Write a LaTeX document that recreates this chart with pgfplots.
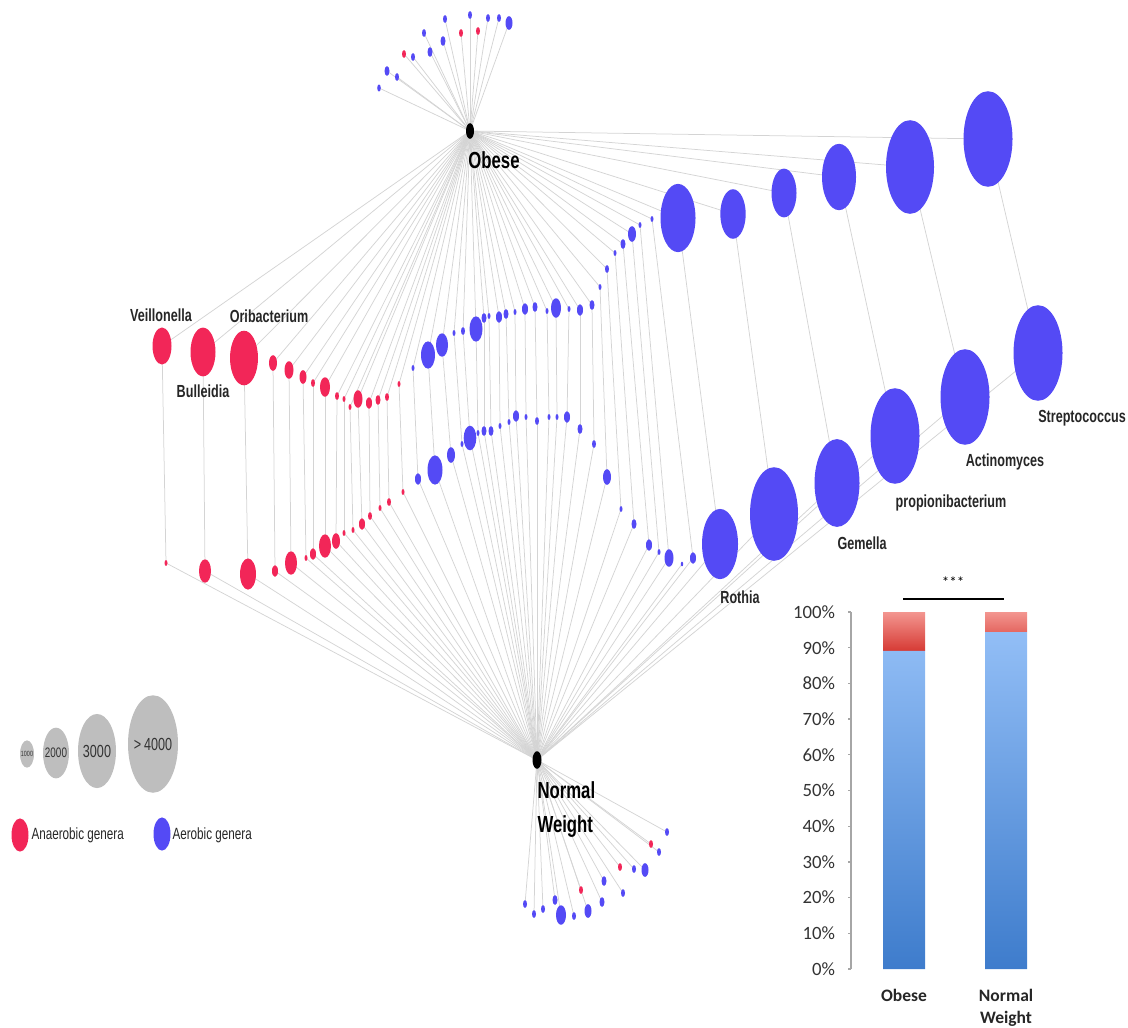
\documentclass[border=0pt]{standalone}
\usepackage{pgfplots}
\pgfplotsset{compat=1.18}
\usepackage{pgfplotstable}
\usepackage{fontspec}
\setmainfont{Liberation Sans}
\newfontfamily\cond[FakeStretch=0.72]{Liberation Sans}
\newfontfamily\carl{Carlito}

\definecolor{nred}{RGB}{242,38,88}
\definecolor{nblue}{RGB}{84,74,245}
\definecolor{lgray}{RGB}{190,190,190}
\definecolor{edgec}{RGB}{212,212,212}
\definecolor{bbT}{RGB}{146,190,246}
\definecolor{bbB}{RGB}{62,124,204}
\definecolor{brT}{RGB}{243,150,144}
\definecolor{brB}{RGB}{214,58,52}

\pgfdeclareplotmark{vell}{%
  \pgfpathellipse{\pgfpointorigin}{\pgfqpoint{\pgfplotmarksize}{0pt}}{\pgfqpoint{0pt}{1.95\pgfplotmarksize}}%
  \pgfusepathqfill}

% genus pairs: upper (obese) node, lower (normal weight) node; r = horizontal radius in px
\pgfplotstableread{
ux uy ur lx ly lr
162 346 9.5 166 563 1.5
203 352 12.5 205 571 6
244 358 14 248 574 8
273 363 4 275 571 3
289 370 4.5 291 563 6
303 377 3.5 306 558 1.5
313 383 2 313 554 3
325 387 5 325 546 6
337 396 2 336 541 4
344 399 1.5 344 533 1.5
350 407 1.5 353 530 1.5
358 399 4.5 362 524 3
369 403 3 370 516 2
378 400 2.5 380 508 1.5
387 397 2 389 502 2
399 384 1.5 403 492 1.5
}\redpairs

\pgfplotstableread{
ux uy ur lx ly lr
413 368 1.5 418 479 3
428 355 7 435 470 7.5
442 345 6 451 455 4
454 333 1.5 462 444 1.5
463 331 2 470 438 6.3
476 329 6.5 478 433 1.5
484 318 2.5 484 431 2.5
489 316 1.5 491 431 2.5
499 317 3 500 426 1.5
506 314 2.5 509 422 1.5
515 312 1.5 516 416 3
525 309 3 526 417 1.5
535 307 2.5 537 421 2
547 311 1.5 549 417 1.5
556 308 5 557 417 1.5
569 309 1.5 567 417 3
580 310 3 580 429 2.5
592 305 2.5 594 444 2
600 287 1.5 607 477 4
607 269 2 621 509 1.5
615 253 1.5 634 524 2.5
623 244 2.5 649 545 3
632 234 4 659 552 1.5
640 225 1.5 669 558 4.5
652 219 1.5 693 558 3
678 218 17.5 720 544 18
733 214 12.7 774 514 24
784 193 12.5 837 483 22.5
839 177 17 895 436 24.5
910 167 24 965 397 24.5
988 139 24.5 1038 353 24.5
}\bluepairs

\pgfplotstableread{
x y r
445 19 2
470 15 2
488 18 2
499 18 2
509 23 3.5
424 33 2
443 41 2.5
430 52 2.5
413 57 2
387 71 2.5
397 77 2
379 88 1.8
}\topblue

\pgfplotstableread{
x y r
461 33 2
478 31 2
404 54 2
}\topred

\pgfplotstableread{
x y r
667 832 2
659 852 2
634 869 2
645 870 3.5
604 881 2.5
623 893 2
602 902 2.5
588 911 3.5
574 916 2
561 915 5
555 900 2.5
543 909 2
534 914 2
525 904 2
682 564 1.2
}\botblue

\pgfplotstableread{
x y r
651 844 2
620 867 2
581 890 2
}\botred

\pgfplotstableread{
x y r
470 131 4
537 760 4.5
}\hubs

\pgfplotstableread{
x y r
27 754 7
56 753 13
97 751 19
153 744 25
}\legsizes

\pgfplotsset{
  gnode/.style={only marks, mark=vell, scatter,
    scatter/use mapped color={draw=#1,fill=#1},
    scatter/@pre marker code/.append style={/tikz/mark size=\rr}},
  edge/.style={draw=edgec, line width=0.3pt, -, line cap=round},
}

\begin{document}
\begin{tikzpicture}
\begin{axis}[at={(0,0)}, anchor=south west, scale only axis,
  width=451.2pt, height=410.8pt,
  xmin=0, xmax=1128, ymin=0, ymax=1027, y dir=reverse,
  hide axis, clip=false, set layers]
% ---- edges
\addplot[edge, quiver={u=470-\thisrow{ux}, v=131-\thisrow{uy}}] table[x=ux,y=uy]{\redpairs};
\addplot[edge, quiver={u=\thisrow{lx}-\thisrow{ux}, v=\thisrow{ly}-\thisrow{uy}}] table[x=ux,y=uy]{\redpairs};
\addplot[edge, quiver={u=537-\thisrow{lx}, v=760-\thisrow{ly}}] table[x=lx,y=ly]{\redpairs};
\addplot[edge, quiver={u=470-\thisrow{ux}, v=131-\thisrow{uy}}] table[x=ux,y=uy]{\bluepairs};
\addplot[edge, quiver={u=\thisrow{lx}-\thisrow{ux}, v=\thisrow{ly}-\thisrow{uy}}] table[x=ux,y=uy]{\bluepairs};
\addplot[edge, quiver={u=537-\thisrow{lx}, v=760-\thisrow{ly}}] table[x=lx,y=ly]{\bluepairs};
\addplot[edge, quiver={u=470-\thisrow{x}, v=131-\thisrow{y}}] table{\topblue};
\addplot[edge, quiver={u=470-\thisrow{x}, v=131-\thisrow{y}}] table{\topred};
\addplot[edge, quiver={u=537-\thisrow{x}, v=760-\thisrow{y}}] table{\botblue};
\addplot[edge, quiver={u=537-\thisrow{x}, v=760-\thisrow{y}}] table{\botred};
% ---- nodes
\addplot[gnode=nred, visualization depends on={0.4*\thisrow{ur}\as\rr}] table[x=ux,y=uy]{\redpairs};
\addplot[gnode=nred, visualization depends on={0.4*\thisrow{lr}\as\rr}] table[x=lx,y=ly]{\redpairs};
\addplot[gnode=nblue, visualization depends on={0.4*\thisrow{ur}\as\rr}] table[x=ux,y=uy]{\bluepairs};
\addplot[gnode=nblue, visualization depends on={0.4*\thisrow{lr}\as\rr}] table[x=lx,y=ly]{\bluepairs};
\addplot[gnode=nblue, visualization depends on={0.4*\thisrow{r}\as\rr}] table{\topblue};
\addplot[gnode=nred, visualization depends on={0.4*\thisrow{r}\as\rr}] table{\topred};
\addplot[gnode=nblue, visualization depends on={0.4*\thisrow{r}\as\rr}] table{\botblue};
\addplot[gnode=nred, visualization depends on={0.4*\thisrow{r}\as\rr}] table{\botred};
\addplot[gnode=black, visualization depends on={0.4*\thisrow{r}\as\rr}] table{\hubs};
% ---- legend
\addplot[gnode=lgray, visualization depends on={0.4*\thisrow{r}\as\rr}] table{\legsizes};
\addplot[gnode=nred, visualization depends on={0.4*\thisrow{r}\as\rr}] table{
x y r
20 835 8.5
};
\addplot[gnode=nblue, visualization depends on={0.4*\thisrow{r}\as\rr}] table{
x y r
162 834 8.5
};
% ---- labels
\begin{pgfonlayer}{axis foreground}
\begin{scope}[every node/.style={inner sep=0pt, text=black}]
\node[font=\cond\bfseries\fontsize{9.3}{10}\selectfont] at (axis cs:494,160) {Obese};
\node[font=\cond\bfseries\fontsize{9.3}{10}\selectfont, anchor=west] at (axis cs:537,790) {Normal};
\node[font=\cond\bfseries\fontsize{9.3}{10}\selectfont, anchor=west] at (axis cs:537,827) {Weight};
\node[font=\cond\bfseries\fontsize{7}{8}\selectfont, text=black!85] at (axis cs:161,315) {Veillonella};
\node[font=\cond\bfseries\fontsize{7}{8}\selectfont, text=black!85] at (axis cs:269,316) {Oribacterium};
\node[font=\cond\bfseries\fontsize{7}{8}\selectfont, text=black!85] at (axis cs:203,391) {Bulleidia};
\node[font=\cond\bfseries\fontsize{7}{8}\selectfont, text=black!85] at (axis cs:1082,418) {Streptococcus};
\node[font=\cond\bfseries\fontsize{7}{8}\selectfont, text=black!85] at (axis cs:1005,462) {Actinomyces};
\node[font=\cond\bfseries\fontsize{7}{8}\selectfont, text=black!85] at (axis cs:951,503) {propionibacterium};
\node[font=\cond\bfseries\fontsize{7}{8}\selectfont, text=black!85] at (axis cs:862,543) {Gemella};
\node[font=\cond\bfseries\fontsize{7}{8}\selectfont, text=black!85] at (axis cs:740,597) {Rothia};
\node[font=\cond\fontsize{3}{3.5}\selectfont, text=black!80] at (axis cs:27,754) {1000};
\node[font=\cond\fontsize{5.5}{6}\selectfont, text=black!80] at (axis cs:56,753) {2000};
\node[font=\cond\fontsize{7}{8}\selectfont, text=black!80] at (axis cs:97,751) {3000};
\node[font=\cond\fontsize{7}{8}\selectfont, text=black!80] at (axis cs:153,744) {>\,4000};
\node[font=\cond\fontsize{6.5}{7}\selectfont, anchor=west, text=black!85] at (axis cs:31,835) {Anaerobic genera};
\node[font=\cond\fontsize{6.5}{7}\selectfont, anchor=west, text=black!85] at (axis cs:172,835) {Aerobic genera};
\end{scope}
\end{pgfonlayer}
\end{axis}

% ---- stacked bar chart
\begin{axis}[at={(340.4pt,23.2pt)}, anchor=south west, scale only axis,
  width=83.6pt, height=142.8pt,
  xmin=-0.52, xmax=1.529, ymin=0, ymax=100,
  ybar stacked, bar width=16.8pt, clip=false,
  axis y line*=left, axis x line*=bottom,
  x axis line style={draw=none},
  y axis line style={draw=gray!70, line width=0.5pt},
  tick align=outside, major tick length=1.2pt,
  ytick={0,10,...,100},
  yticklabels={0\%,10\%,20\%,30\%,40\%,50\%,60\%,70\%,80\%,90\%,100\%},
  ytick style={draw=gray!70, line width=0.5pt},
  yticklabel style={font=\carl\fontsize{7.5}{9}\selectfont, text=black!80, inner sep=0pt, xshift=-5pt},
  xtick={0,1}, xticklabels={Obese,Normal\\Weight},
  xtick style={draw=none},
  xticklabel style={font=\carl\bfseries\fontsize{7}{8.8}\selectfont, align=center, inner sep=0pt, yshift=-6.6pt, text=black!85},
]
\addplot[draw=none, top color=bbT, bottom color=bbB] coordinates {(0,89.1) (1,94.4)};
\addplot[draw=none, top color=brT, bottom color=brB] coordinates {(0,10.9) (1,5.6)};
\draw[black, line width=0.8pt] (axis cs:-0.01,103.6) -- (axis cs:0.98,103.6);
\node[anchor=base, inner sep=0pt, font=\carl\fontsize{6}{7}\selectfont] at (axis cs:0.48,106.8) {***};
\end{axis}
\pgfresetboundingbox
\path (0,0) rectangle (451.2pt,410.8pt);
\end{tikzpicture}
\end{document}
